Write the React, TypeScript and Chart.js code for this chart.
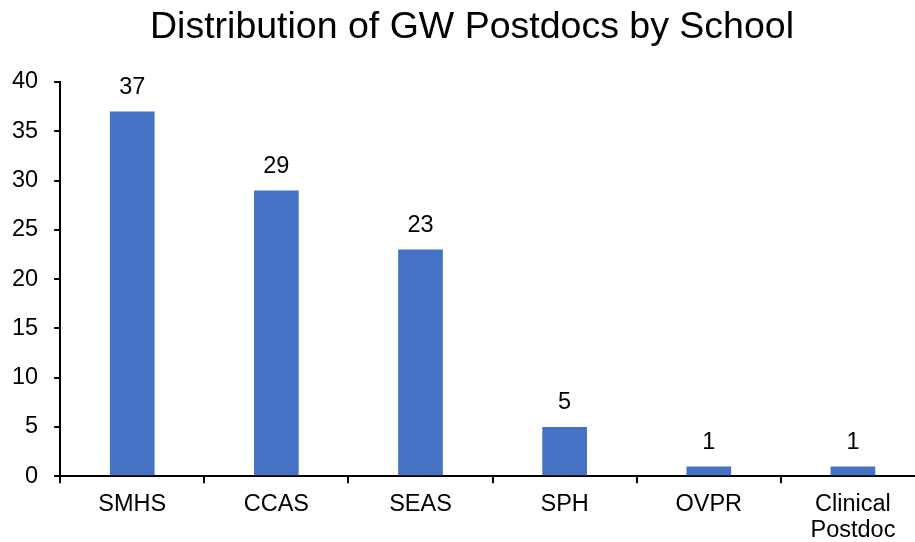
import React, { useEffect, useRef } from "react";
import { Chart, registerables } from "chart.js";

Chart.register(...registerables);

const categories: (string | string[])[] = ["SMHS", "CCAS", "SEAS", "SPH", "OVPR", ["Clinical", "Postdoc"]];
const postdocs: number[] = [37, 29, 23, 5, 1, 1];
const titleText = "Distribution of GW Postdocs by School";
const yMin = 0;
const yMax = 40;
const yStep = 5;

const FONT = "'Liberation Sans', Arial, sans-serif";
const SHIFT_X = 14;

const valueLabels = {
  id: "valueLabels",
  afterDatasetsDraw(chart: any) {
    const ctx = chart.ctx;
    const meta = chart.getDatasetMeta(0);
    ctx.save();
    ctx.font = `23.5px ${FONT}`;
    ctx.fillStyle = "#000";
    ctx.textAlign = "center";
    ctx.textBaseline = "middle";
    meta.data.forEach((bar: any, i: number) => {
      const v = chart.data.datasets[0].data[i];
      ctx.fillText(String(v), bar.x, bar.y - 24);
    });
    ctx.restore();
  },
};

const customTitle = {
  id: "customTitle",
  afterDraw(chart: any) {
    const ctx = chart.ctx;
    ctx.save();
    ctx.font = `37.5px ${FONT}`;
    ctx.fillStyle = "#000";
    ctx.textAlign = "center";
    ctx.textBaseline = "middle";
    ctx.fillText(titleText, 472 + SHIFT_X, 28);
    ctx.restore();
  },
};

export default function App() {
  const ref = useRef<HTMLCanvasElement>(null);
  useEffect(() => {
    if (!ref.current) return;
    const chart = new Chart(ref.current, {
      type: "bar",
      data: {
        labels: categories,
        datasets: [
          {
            data: postdocs,
            backgroundColor: "#4472C4",
            barPercentage: 0.62,
            categoryPercentage: 0.5,
          },
        ],
      },
      options: {
        responsive: false,
        animation: false,
        devicePixelRatio: 1,
        layout: { padding: { left: 10, right: 19, top: 82, bottom: 0 } },
        plugins: {
          legend: { display: false },
          tooltip: { enabled: false },
          title: { display: false },
        },
        scales: {
          x: {
            grid: {
              drawOnChartArea: false,
              drawTicks: true,
              tickLength: 7,
              tickColor: "#000",
              lineWidth: 2,
              offset: true,
            },
            border: { display: true, color: "#000", width: 2 },
            ticks: {
              color: "#000",
              font: { family: FONT, size: 23.5, lineHeight: 1.1 },
              padding: 8,
              maxRotation: 0,
              autoSkip: false,
            },
          },
          y: {
            min: yMin,
            max: yMax,
            grid: {
              drawOnChartArea: false,
              drawTicks: true,
              tickLength: 6,
              tickColor: "#000",
              lineWidth: 2,
            },
            border: { display: true, color: "#000", width: 2 },
            ticks: {
              stepSize: yStep,
              color: "#000",
              font: { family: FONT, size: 23.5 },
              padding: 16,
            },
          },
        },
      },
      plugins: [valueLabels, customTitle],
    });
    return () => chart.destroy();
  }, []);
  return (
    <div style={{ position: "fixed", left: 0, top: 0, width: 915, height: 542, overflow: "hidden", background: "#fff" }}>
      <canvas
        ref={ref}
        width={958}
        height={551}
        style={{ display: "block", width: 958, height: 551, marginLeft: -SHIFT_X }}
      />
    </div>
  );
}
